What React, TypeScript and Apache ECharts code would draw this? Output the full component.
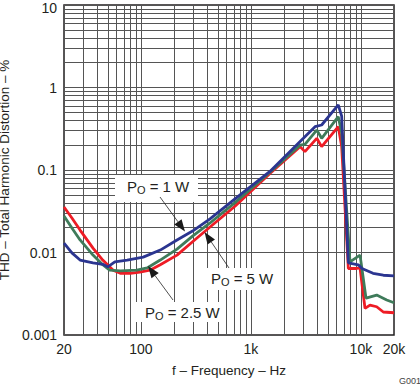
import React, { useEffect, useRef } from 'react';
import * as echarts from 'echarts';

// Axis ticks and labels
const xTickValues = [20, 100, 1000, 10000, 20000];
const xTickLabels = ['20', '100', '1k', '10k', '20k'];
const yTickValues = [0.001, 0.01, 0.1, 1, 10];
const yTickLabels = ['0.001', '0.01', '0.1', '1', '10'];

// Minor grid lines (2..9 x decade)
const xMinorGrid = [30, 40, 50, 60, 70, 80, 90, 200, 300, 400, 500, 600, 700, 800, 900, 2000, 3000, 4000, 5000, 6000, 7000, 8000, 9000];
const yMinorGrid = [
  0.002, 0.003, 0.004, 0.005, 0.006, 0.007, 0.008, 0.009,
  0.02, 0.03, 0.04, 0.05, 0.06, 0.07, 0.08, 0.09,
  0.2, 0.3, 0.4, 0.5, 0.6, 0.7, 0.8, 0.9,
  2, 3, 4, 5, 6, 7, 8, 9,
];

// THD (%) vs frequency (Hz)
const po1W: [number, number][] = [
  [20, 0.013], [23.6, 0.0099], [28, 0.0081], [36.7, 0.0075], [45, 0.0072], [50, 0.0067],
  [58, 0.0077], [75, 0.0081], [105, 0.0088], [150, 0.0107], [213, 0.0142], [295, 0.0182],
  [425, 0.0255], [717, 0.0447], [1490, 0.096], [3000, 0.242], [3830, 0.335], [4400, 0.351],
  [6230, 0.614], [6690, 0.45], [7690, 0.0075], [9470, 0.0071], [10230, 0.0064],
  [12890, 0.0056], [15990, 0.0053], [20000, 0.0052],
];
const po2p5W: [number, number][] = [
  [20, 0.0277], [23.6, 0.0198], [28, 0.0142], [36.7, 0.0093], [45, 0.0071], [52, 0.0061],
  [65, 0.006], [92, 0.0061], [114, 0.0065], [150, 0.0081], [213, 0.011], [295, 0.0158],
  [425, 0.0228], [717, 0.0402], [1490, 0.094], [2800, 0.2], [3100, 0.205], [3970, 0.305],
  [4400, 0.242], [6230, 0.443], [6690, 0.281], [7960, 0.0077], [9820, 0.0093], [10170, 0.0067],
  [11130, 0.0028], [13920, 0.00305], [17170, 0.00266], [20000, 0.00246],
];
const po5W: [number, number][] = [
  [20, 0.0356], [23.6, 0.0262], [28, 0.0187], [36.7, 0.0113], [45, 0.0081], [56, 0.0061],
  [65, 0.0056], [80, 0.0056], [98, 0.0058], [121, 0.0061], [150, 0.0071], [213, 0.0093],
  [295, 0.0135], [425, 0.0204], [717, 0.0364], [1490, 0.091], [2800, 0.192], [3100, 0.167],
  [3970, 0.242], [4400, 0.192], [6230, 0.335], [6690, 0.192], [7690, 0.0064], [9160, 0.0064],
  [9820, 0.0065], [10900, 0.0021], [12100, 0.0023], [13920, 0.0022], [15990, 0.0019], [20000, 0.00186],
];

const FONT = '"Liberation Sans", Arial, Helvetica, sans-serif';
const TEXT = '#231f20';
const GRID = '#555555';

function arrow(x1: number, y1: number, x2: number, y2: number) {
  const dx = x2 - x1;
  const dy = y2 - y1;
  const len = Math.sqrt(dx * dx + dy * dy);
  const ux = dx / len;
  const uy = dy / len;
  const L = 12;
  const W = 4.5;
  const bx = x2 - ux * L;
  const by = y2 - uy * L;
  return [
    { type: 'line', z: 100, shape: { x1, y1, x2: bx, y2: by }, style: { stroke: '#222', lineWidth: 0.8 } },
    {
      type: 'polygon', z: 100,
      shape: { points: [[x2, y2], [bx - uy * W, by + ux * W], [bx + uy * W, by - ux * W]] },
      style: { fill: '#1a1a1a' },
    },
  ];
}

function label(bx: number, by: number, bw: number, bh: number, tx: number, ty: number, rest: string) {
  return [
    { type: 'rect', z: 99, shape: { x: bx, y: by, width: bw, height: bh }, style: { fill: '#ffffff' } },
    { type: 'text', z: 100, x: tx, y: ty, style: { text: 'P', fontSize: 15, fontFamily: FONT, fill: TEXT, verticalAlign: 'middle', align: 'left' } },
    { type: 'text', z: 100, x: tx + 10, y: ty + 4, style: { text: 'O', fontSize: 11, fontFamily: FONT, fill: TEXT, verticalAlign: 'middle', align: 'left' } },
    { type: 'text', z: 100, x: tx + 18.5, y: ty, style: { text: rest, fontSize: 15, fontFamily: FONT, fill: TEXT, verticalAlign: 'middle', align: 'left' } },
  ];
}

export default function App() {
  const ref = useRef<HTMLDivElement>(null);

  useEffect(() => {
    if (!ref.current) return;
    const chart = echarts.init(ref.current, undefined, { renderer: 'svg' });

    const gridLine = (key: 'xAxis' | 'yAxis', vals: number[]) =>
      vals.map((v) => ({ [key]: v }));

    const mkSeries = (name: string, data: [number, number][], color: string, extra: any = {}) => ({
      name,
      type: 'line',
      data,
      showSymbol: false,
      symbol: 'none',
      smooth: false,
      lineStyle: { color, width: 2.8 },
      itemStyle: { color },
      emphasis: { disabled: true },
      silent: true,
      z: 3,
      ...extra,
    });

    const option: any = {
      animation: false,
      grid: {
        left: 64, top: 5, width: 330, height: 330,
        outerBoundsMode: 'none',
        containLabel: false,
        show: true, borderColor: '#231f20', borderWidth: 1.5,
        backgroundColor: 'transparent',
      },
      xAxis: {
        type: 'log', logBase: 10, min: 20, max: 20000,
        axisLine: { show: false }, axisTick: { show: false },
        splitLine: { show: true, lineStyle: { color: GRID, width: 1 } },
        axisLabel: {
          fontSize: 14, fontFamily: FONT, color: TEXT, margin: 7,
          showMinLabel: true, showMaxLabel: true,
          formatter: (v: number) => {
            const i = xTickValues.findIndex((t) => Math.abs(t - v) / t < 1e-6);
            return i >= 0 ? xTickLabels[i] : '';
          },
        },
        name: 'f – Frequency – Hz',
        nameLocation: 'middle', nameGap: 28,
        nameTextStyle: { fontSize: 13.5, fontFamily: FONT, color: TEXT },
      },
      yAxis: {
        type: 'log', logBase: 10, min: 0.001, max: 10,
        axisLine: { show: false }, axisTick: { show: false },
        splitLine: { show: true, lineStyle: { color: GRID, width: 1 } },
        axisLabel: {
          fontSize: 14, fontFamily: FONT, color: TEXT, margin: 7,
          showMinLabel: true, showMaxLabel: true,
          formatter: (v: number) => {
            const i = yTickValues.findIndex((t) => Math.abs(t - v) / t < 1e-6);
            if (i < 0) return '';
            return i === yTickValues.length - 1 ? '{top|' + yTickLabels[i] + '}' : yTickLabels[i];
          },
          rich: {
            top: { fontSize: 14, fontFamily: FONT, color: TEXT, padding: [5, 0, 0, 0] },
          },
        },
        name: 'THD – Total Harmonic Distortion – %',
        nameLocation: 'middle', nameGap: 44, nameRotate: 90,
        nameTextStyle: { fontSize: 13.5, fontFamily: FONT, color: TEXT },
      },
      series: [
        mkSeries('PO = 5 W', po5W, '#ee1c25', {
          markLine: {
            z: 1,
            silent: true,
            symbol: ['none', 'none'],
            label: { show: false },
            emphasis: { disabled: true },
            lineStyle: { type: 'solid', color: GRID, width: 1 },
            data: [...gridLine('xAxis', xMinorGrid), ...gridLine('yAxis', yMinorGrid)],
          },
        }),
        mkSeries('PO = 2.5 W', po2p5W, '#3f7b5a'),
        mkSeries('PO = 1 W', po1W, '#2b3590'),
      ],
      graphic: {
        elements: [
          ...label(115, 175, 83, 27, 127, 186, ' = 1 W'),
          ...arrow(160, 197, 185, 231.5),
          ...label(202, 268, 76, 22, 211, 278, ' = 5 W'),
          ...arrow(229, 268, 204.5, 232),
          ...label(135, 302, 90, 20, 145, 312, ' = 2.5 W'),
          ...arrow(173, 300, 148, 266),
          { type: 'text', z: 100, x: 399, y: 381, style: { text: 'G001', fontSize: 9, fontFamily: FONT, fill: '#444', verticalAlign: 'middle', align: 'left' } },
        ],
      },
    };

    chart.setOption(option);
    return () => chart.dispose();
  }, []);

  return (
    <div
      ref={ref}
      style={{ position: 'fixed', left: 0, top: 0, width: 420, height: 385, background: '#ffffff' }}
    />
  );
}
